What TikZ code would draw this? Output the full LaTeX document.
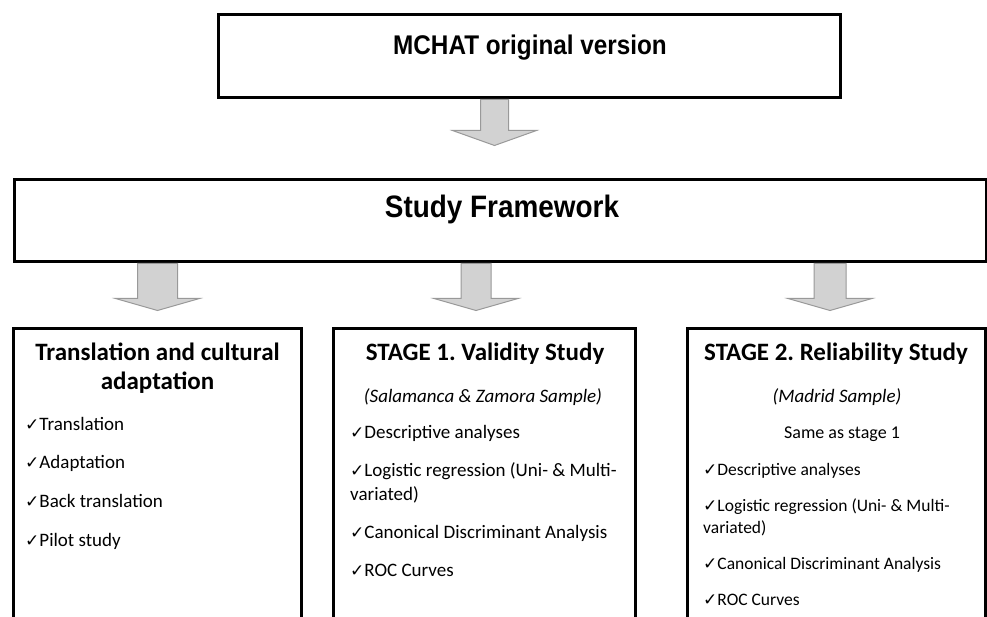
\documentclass[tikz,border=0pt]{standalone}
\usepackage{fontspec}
\setmainfont{Carlito}
\newfontfamily\headfont[FakeStretch=0.9]{Liberation Sans}
\newfontfamily\symfont{DejaVu Sans}
\usetikzlibrary{positioning,calc}
\newcommand{\chk}{{\symfont\fontsize{17}{17}\selectfont ✓}}
\frenchspacing

\begin{document}
\begin{tikzpicture}[x=1pt,y=-1pt,
    box/.style={draw, line width=3pt, inner sep=0pt},
    headtxt/.style={font={\headfont\bfseries\fontsize{27}{32}\selectfont}, inner sep=0pt, anchor=base},
    stitle/.style={font={\bfseries\fontsize{25}{30}\selectfont}, align=flush center, text width=285pt, inner sep=0pt, anchor=base},
    sample/.style={font={\itshape\fontsize{19}{23}\selectfont}, inner sep=0pt, anchor=base},
    items/.style={font={\fontsize{19}{24}\selectfont}, align=flush left, text width=#1, inner sep=0pt, anchor=base west},
    blockarrow/.style n args={3}{draw=gray!80, fill=gray!35, line width=1pt,
      to path={let \p1=(\tikztostart), \p2=(\tikztotarget) in
        (\x1-#1,\y1) -- (\x1+#1,\y1) -- (\x1+#1,\y2+#3) -- (\x1+#2,\y2+#3)
        -- (\x1,\y2) -- (\x1-#2,\y2+#3) -- (\x1-#1,\y2+#3) -- cycle}}]
\useasboundingbox (0,0) rectangle (987,617);
\clip (0,0) rectangle (987,617);

% boxes
\node[box, minimum width=622, minimum height=83] (orig) at (529.5,56.5) {};
\node[box, minimum width=972, minimum height=82] (frame) at (500,221) {};
\node[box, minimum width=288, minimum height=320] (trans) at (157.5,488) {};
\node[box, minimum width=302, minimum height=320] (valid) at (484,488) {};
\node[box, minimum width=298, minimum height=320] (relia) at (836,488) {};

% arrows
\draw[blockarrow={14}{42}{15}] ($(orig.south)+(-35,0)$) to ($(frame.north)+(-6,-33)$);
\draw[blockarrow={20}{42}{12}] (frame.south -| trans.north) to ($(trans.north)+(0,-16)$);
\draw[blockarrow={15}{42}{12}] ($(frame.south -| valid.north)+(-8,0)$) to ($(valid.north)+(-8,-16)$);
\draw[blockarrow={16}{42}{12}] ($(frame.south -| relia.north)+(-6,0)$) to ($(relia.north)+(-6,-16)$);

% texts
\node[headtxt] (origtxt) at (530,55) {MCHAT original version};
\node[headtxt, font={\headfont\bfseries\fontsize{31}{36}\selectfont}] (frametxt) at (502,218) {Study Framework};

\node[stitle] (transtitle) at (157.5,360) {Translation and cultural\\[-1pt]adaptation};
\node[items=200pt, font={\fontsize{19}{24.7}\selectfont}] (translist) at (25,430)
  {\chk Translation\\[14pt]\chk Adaptation\\[14pt]\chk Back translation\\[14pt]\chk Pilot study};

\node[stitle] (validtitle) at (485,360) {STAGE 1. Validity Study};
\node[sample] (validsample) at (483,402) {(Salamanca \& Zamora Sample)};
\node[items=280pt] (validlist) at (350,438)
  {\chk Descriptive analyses\\[14pt]\chk Logistic regression (Uni- \& Multi-\\variated)\\[14pt]%
   \chk Canonical Discriminant Analysis\\[14pt]\chk ROC Curves};

\node[stitle] (reliatitle) at (836,360) {STAGE 2. Reliability Study};
\node[sample] (reliasample) at (837,402) {(Madrid Sample)};
\node[sample, font={\fontsize{18}{22}\selectfont}] (reliasame) at (842,438) {Same as stage 1};
\node[items=270pt, font={\fontsize{17.5}{22}\selectfont}] (relialist) at (703,475)
  {\chk Descriptive analyses\\[14pt]\chk Logistic regression (Uni- \& Multi-\\variated)\\[14pt]%
   \chk Canonical Discriminant Analysis\\[14pt]\chk ROC Curves};
\end{tikzpicture}
\end{document}
